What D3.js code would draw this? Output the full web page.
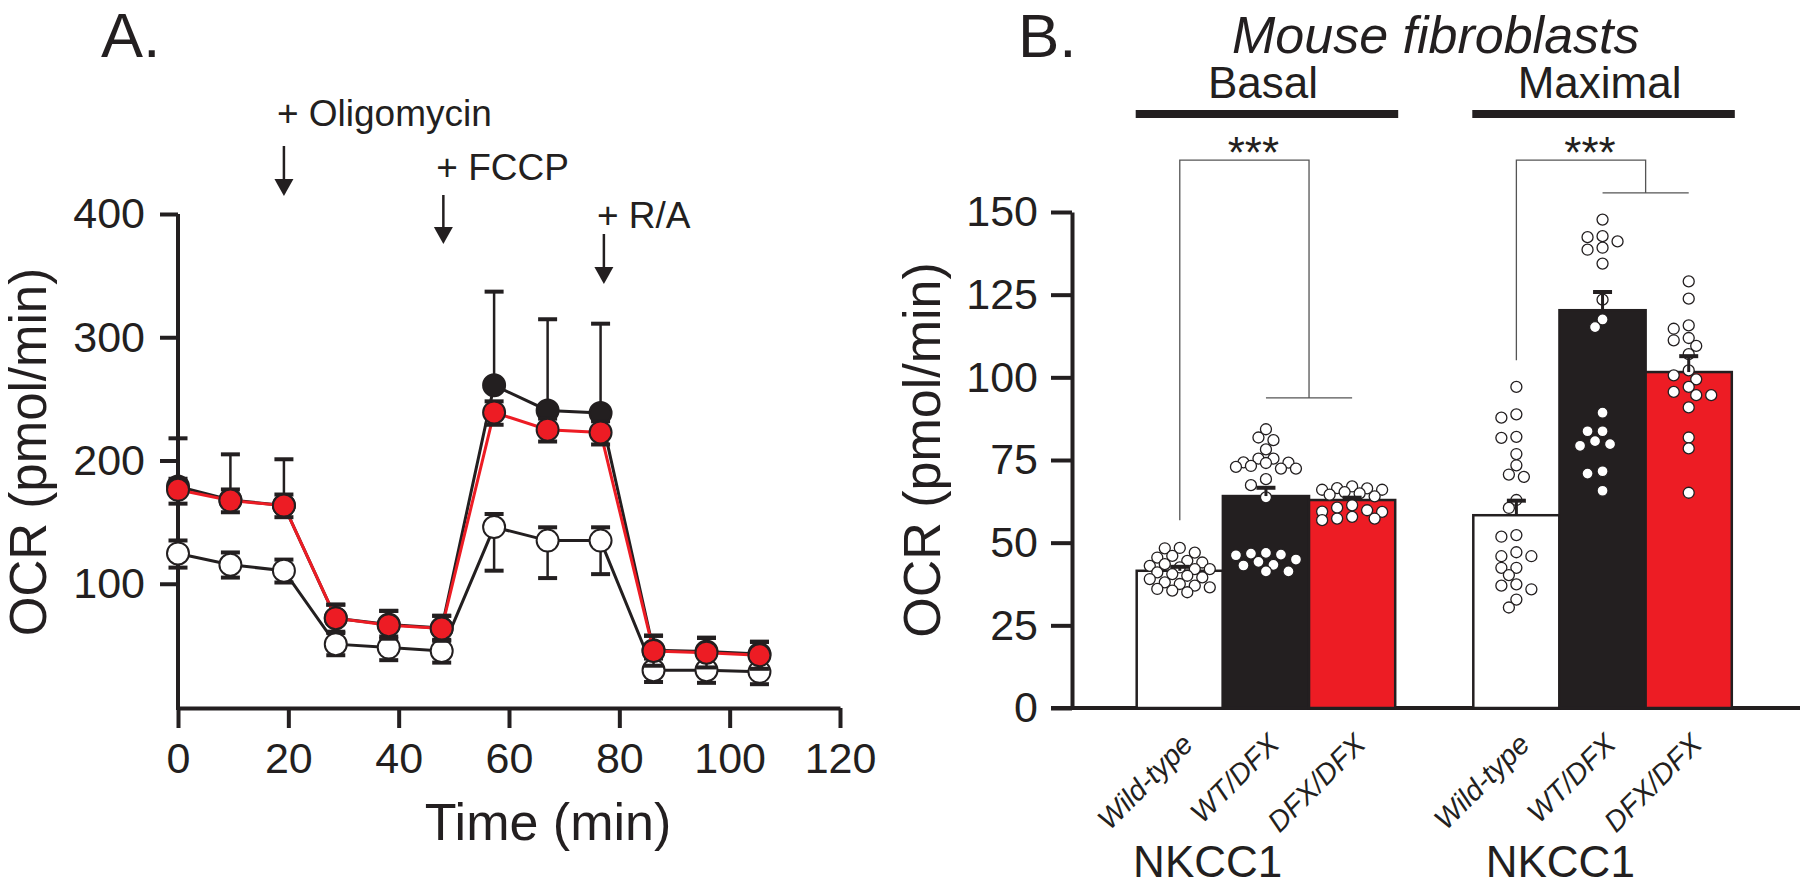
<!DOCTYPE html>
<html><head><meta charset="utf-8">
<script src="https://cdn.jsdelivr.net/npm/d3@7"></script>
<style>
html,body{margin:0;padding:0;background:#fff;}
svg{display:block;}
text{font-family:"Liberation Sans",Arial,Helvetica,sans-serif;fill:#231f20;}
</style></head><body>
<svg id="chart" width="1800" height="887"></svg>
<script>
// ---------------- Panel A data ----------------
const times = [0, 9.5, 19.2, 28.6, 38.2, 47.8, 57.3, 67, 76.6, 86.2, 95.8, 105.4];
const xTicksA = [0, 20, 40, 60, 80, 100, 120];
const yTicksA = [100, 200, 300, 400];
// Wild-type (open circles)
const wtOCR      = [124.6, 115.4, 110.6, 51, 48.2, 45.5, 146, 135, 135, 29.8, 29.8, 28.5];
const wtErrUp    = [10.5, 10, 9, 9, 9, 9, 10.6, 10.8, 10.8, 9.5, 10, 10];
const wtErrDown  = [11.5, 10.4, 9.6, 9, 10.2, 9.5, 35.4, 30.4, 27.2, 9.5, 10.2, 10];
// WT/DFX (black)
const hetOCR     = [179, 168, 163.5, 72, 67, 64, 261, 240.6, 238.5, 46, 45, 43];
const hetErrUp   = [39, 37, 37.5, 11, 11, 10, 76, 74, 72.5, 12, 11, 10];
const hetErrDown = [0, 0, 0, 0, 0, 0, 0, 0, 0, 0, 0, 0];
// DFX/DFX (red)
const homOCR     = [176.2, 167.5, 163.4, 72.1, 66.4, 63.7, 239, 225, 222.8, 45.5, 44.1, 42];
const homErrUp   = [9, 9, 9, 11, 11.6, 10.3, 9, 9, 9, 12.2, 12.2, 10.8];
const homErrDown = [11.2, 9.5, 9.4, 11, 11, 10, 10, 9.6, 9.8, 12, 12, 11];
// injections
const injectionLabels = ["+ Oligomycin", "+ FCCP", "+ R/A"];
const injectionTimes  = [19.2, 48.1, 77.2];

// ---------------- Panel B data ----------------
const groups = ["Basal", "Maximal"];
const genotypes = ["Wild-type", "WT/DFX", "DFX/DFX"];
const yTicksB = [0, 25, 50, 75, 100, 125, 150];
const basalMeans = [41.5, 64.1, 62.9];
const basalSEM   = [1.2, 2.5, 0.7];
const maximalMeans = [58.3, 120.3, 101.6];
const maximalSEM   = [4.4, 5.5, 4.8];
const basalWT  = [48.4, 48.3, 47, 46, 45.5, 44.5, 44, 43.5, 43, 42.5, 42, 42, 41, 40.5, 40, 39.5, 39, 38, 37.5, 37, 36.5, 36, 35.5, 35];
const basalHet = [84.3, 81.8, 81, 78.2, 75.4, 75.4, 74.3, 74.2, 74.1, 73.2, 72.9, 72.4, 72.4, 69.2, 67.4, 63.7, 46.9, 46.7, 46.4, 46.2, 44.9, 44.2, 43.3, 43.1, 41.3, 41.3];
const basalHom = [67, 66.5, 66.4, 66, 66, 65.3, 64.9, 64.5, 64, 61.3, 60.6, 59.8, 59.4, 59.3, 57.8, 57.3, 57.3, 56.8];
const maxWT  = [97.1, 88.8, 87.8, 82, 81.7, 76.8, 73.4, 70.6, 69.9, 62.9, 60.5, 52.3, 51.8, 47.1, 45.9, 45.9, 42.4, 42.4, 40.2, 37.4, 37, 35.9, 32.8, 30.4];
const maxHet = [147.7, 142.7, 142.4, 141.1, 139.2, 138.6, 134.4, 123.5, 117.5, 115.2, 89.3, 83.7, 83.7, 80.7, 79.8, 79.3, 71.6, 70.9, 65.7];
const maxHom = [129, 123.8, 115.7, 114.7, 111.9, 111.2, 109.5, 107, 102.1, 100.6, 99.4, 97.1, 95.6, 94.6, 94.6, 90.9, 81.8, 78.5, 65.1];
// significance brackets (value units): left end, right end, top
const bracketLeftEnd  = [56.8, 105.2];
const bracketRightEnd = [93.8, 155.8];
const bracketTop = 165.7;
const sigLabels = ["***", "***"];

// ---------------- drawing ----------------
const DARK = "#231f20", RED = "#ed1c24", FONT = '"Liberation Sans", Arial, Helvetica, sans-serif';
const svg = d3.select("#chart");
svg.append("rect").attr("width", 1800).attr("height", 887).attr("fill", "#fff");

function styleAxis(g, fs) {
  g.attr("font-family", FONT).attr("font-size", fs);
  g.selectAll("path,line").attr("stroke", DARK).attr("stroke-width", 4);
  g.selectAll("text").attr("fill", DARK);
}

// ===== Panel A =====
const xA = d3.scaleLinear().domain([0, 120]).range([178, 840]);
const yA = d3.scaleLinear().domain([0, 400]).range([707, 214]);

const gxA = svg.append("g").attr("transform", "translate(0,708)")
  .call(d3.axisBottom(xA).tickValues(xTicksA).tickSize(20).tickPadding(14).tickSizeOuter(0));
styleAxis(gxA, 43);
const gyA = svg.append("g").attr("transform", "translate(178,0)")
  .call(d3.axisLeft(yA).tickValues(yTicksA).tickSize(18).tickPadding(15).tickSizeOuter(0));
styleAxis(gyA, 43);
gyA.select(".domain").attr("d", `M0,${yA(400)}V710`);

svg.append("text").attr("transform", "translate(46,452) rotate(-90)")
  .attr("text-anchor", "middle").attr("font-size", 51).text("OCR (pmol/min)");
svg.append("text").attr("x", 548).attr("y", 840).attr("text-anchor", "middle")
  .attr("font-size", 52).text("Time (min)");
svg.append("text").attr("x", 101).attr("y", 57).attr("font-size", 63).text("A.");

function drawSeries(vals, up, down, fill, lineColor) {
  const g = svg.append("g");
  const pts = times.map((t, i) => ({ t, v: vals[i], u: up[i], d: down[i] }));
  g.append("path").datum(pts)
    .attr("d", d3.line().x(d => xA(d.t)).y(d => yA(d.v)))
    .attr("fill", "none").attr("stroke", lineColor).attr("stroke-width", 3);
  const eb = g.append("g");
  pts.forEach(p => {
    [[p.u, 1], [p.d, -1]].forEach(([e, s]) => {
      if (e <= 0) return;
      const yy = yA(p.v + s * e);
      eb.append("line").attr("x1", xA(p.t)).attr("x2", xA(p.t)).attr("y1", yA(p.v)).attr("y2", yy)
        .attr("stroke", DARK).attr("stroke-width", 2.5);
      eb.append("line").attr("x1", xA(p.t) - 9.5).attr("x2", xA(p.t) + 9.5).attr("y1", yy).attr("y2", yy)
        .attr("stroke", DARK).attr("stroke-width", 4);
    });
  });
  g.selectAll("circle").data(pts).join("circle")
    .attr("cx", d => xA(d.t)).attr("cy", d => yA(d.v)).attr("r", 11)
    .attr("fill", fill).attr("stroke", DARK).attr("stroke-width", 2);
}
drawSeries(wtOCR, wtErrUp, wtErrDown, "#fff", DARK);
drawSeries(hetOCR, hetErrUp, hetErrDown, DARK, DARK);
drawSeries(homOCR, homErrUp, homErrDown, RED, RED);

// injection arrows
const injLayout = [
  { base: 126, top: 146, tip: 196 },
  { base: 180, top: 195, tip: 244 },
  { base: 228, top: 234, tip: 284 }
];
injectionLabels.forEach((lab, i) => {
  const x = xA(injectionTimes[i]), L = injLayout[i];
  svg.append("text").attr("x", x - 7).attr("y", L.base).attr("font-size", 37).text(lab);
  svg.append("line").attr("x1", x).attr("x2", x).attr("y1", L.top).attr("y2", L.tip - 15)
    .attr("stroke", DARK).attr("stroke-width", 2.5);
  svg.append("path").attr("d", `M${x - 9.5},${L.tip - 17}L${x + 9.5},${L.tip - 17}L${x},${L.tip}Z`)
    .attr("fill", DARK);
});

// ===== Panel B =====
const xOuter = d3.scaleBand().domain(groups).range([1136.7, 1731.8]).paddingInner(0.232).paddingOuter(0);
const xInner = d3.scaleBand().domain(genotypes).range([0, xOuter.bandwidth()]).padding(0);
const yB = d3.scaleLinear().domain([0, 150]).range([708, 212]);
const fills = [ "#fff", DARK, RED ];
const means = { Basal: basalMeans, Maximal: maximalMeans };
const sems = { Basal: basalSEM, Maximal: maximalSEM };
const dots = { Basal: [basalWT, basalHet, basalHom], Maximal: [maxWT, maxHet, maxHom] };

const gyB = svg.append("g").attr("transform", "translate(1072,0)")
  .call(d3.axisLeft(yB).tickValues(yTicksB).tickSize(21).tickPadding(13).tickSizeOuter(0));
styleAxis(gyB, 43);
svg.append("line").attr("x1", 1051).attr("x2", 1800).attr("y1", 708).attr("y2", 708)
  .attr("stroke", DARK).attr("stroke-width", 4);

svg.append("text").attr("transform", "translate(940,450) rotate(-90)")
  .attr("text-anchor", "middle").attr("font-size", 52).text("OCR (pmol/min)");
svg.append("text").attr("x", 1018).attr("y", 57).attr("font-size", 62).text("B.");
svg.append("text").attr("x", 1232).attr("y", 53).attr("font-size", 52).attr("font-style", "italic")
  .text("Mouse fibroblasts");

// column-scatter layout: offsets limited to +/- 2 columns, overlap allowed when crowded
function swarm(values, cx) {
  const offs = [0, -7.5, 7.5, -15, 15, -22.5, 22.5, -30, 30];
  const D = 10;
  const placed = [];
  values.slice().sort((a, b) => b - a).forEach(v => {
    const y = yB(v);
    let best = 0, bestD = -1, chosen = null;
    for (const off of offs) {
      const md = placed.length ? d3.min(placed, p => Math.hypot(p.x - (cx + off), p.y - y)) : Infinity;
      if (md >= D) { chosen = off; break; }
      if (md > bestD) { bestD = md; best = off; }
    }
    placed.push({ x: cx + (chosen === null ? best : chosen), y });
  });
  return placed;
}

const nkccOffset = { Basal: 71, Maximal: 87 };
groups.forEach((grp, gi) => {
  const g0 = xOuter(grp), bw = xInner.bandwidth();
  const gB = svg.append("g");
  genotypes.forEach((gt, i) => {
    const x0 = g0 + xInner(gt), m = means[grp][i];
    gB.append("rect").attr("x", x0).attr("y", yB(m)).attr("width", bw).attr("height", yB(0) - yB(m))
      .attr("fill", fills[i]).attr("stroke", DARK).attr("stroke-width", 2.5);
  });
  genotypes.forEach((gt, i) => {
    const cx = g0 + xInner(gt) + bw / 2;
    swarm(dots[grp][i], cx).forEach(p => {
      gB.append("circle").attr("cx", p.x).attr("cy", p.y).attr("r", 5.5)
        .attr("fill", "#fff").attr("stroke", DARK).attr("stroke-width", 1.3);
    });
  });
  genotypes.forEach((gt, i) => {
    const cx = g0 + xInner(gt) + bw / 2, m = means[grp][i], e = sems[grp][i];
    gB.append("line").attr("x1", cx).attr("x2", cx).attr("y1", yB(m)).attr("y2", yB(m + e))
      .attr("stroke", DARK).attr("stroke-width", 3);
    gB.append("line").attr("x1", cx - 9.5).attr("x2", cx + 9.5).attr("y1", yB(m + e)).attr("y2", yB(m + e))
      .attr("stroke", DARK).attr("stroke-width", 4);
    // category labels
    svg.append("text").attr("transform", `translate(${cx + 15},746) rotate(-45)`)
      .attr("text-anchor", "end").attr("font-size", 29).attr("font-style", "italic").text(gt);
  });
  // header bar + title
  svg.append("rect").attr("x", g0 - 1).attr("y", 110).attr("width", xOuter.bandwidth() + 4).attr("height", 8)
    .attr("fill", DARK);
  svg.append("text").attr("x", g0 + xOuter.bandwidth() / 2 - 3).attr("y", 98).attr("text-anchor", "middle")
    .attr("font-size", 44).text(grp);
  // bracket
  const c = gt => g0 + xInner(gt) + bw / 2;
  const xMid = g0 + xInner("DFX/DFX");
  svg.append("path")
    .attr("d", `M${c("Wild-type")},${yB(bracketLeftEnd[gi])}V${yB(bracketTop)}H${xMid}V${yB(bracketRightEnd[gi])}` +
               `M${c("WT/DFX")},${yB(bracketRightEnd[gi])}H${c("DFX/DFX")}`)
    .attr("fill", "none").attr("stroke", "#555").attr("stroke-width", 1.3);
  svg.append("text").attr("x", (c("Wild-type") + xMid) / 2 + 9).attr("y", 168).attr("text-anchor", "middle")
    .attr("font-size", 44).text(sigLabels[gi]);
  svg.append("text").attr("x", g0 + nkccOffset[grp]).attr("y", 877).attr("text-anchor", "middle")
    .attr("font-size", 44).text("NKCC1");
});
</script>
</body></html>
